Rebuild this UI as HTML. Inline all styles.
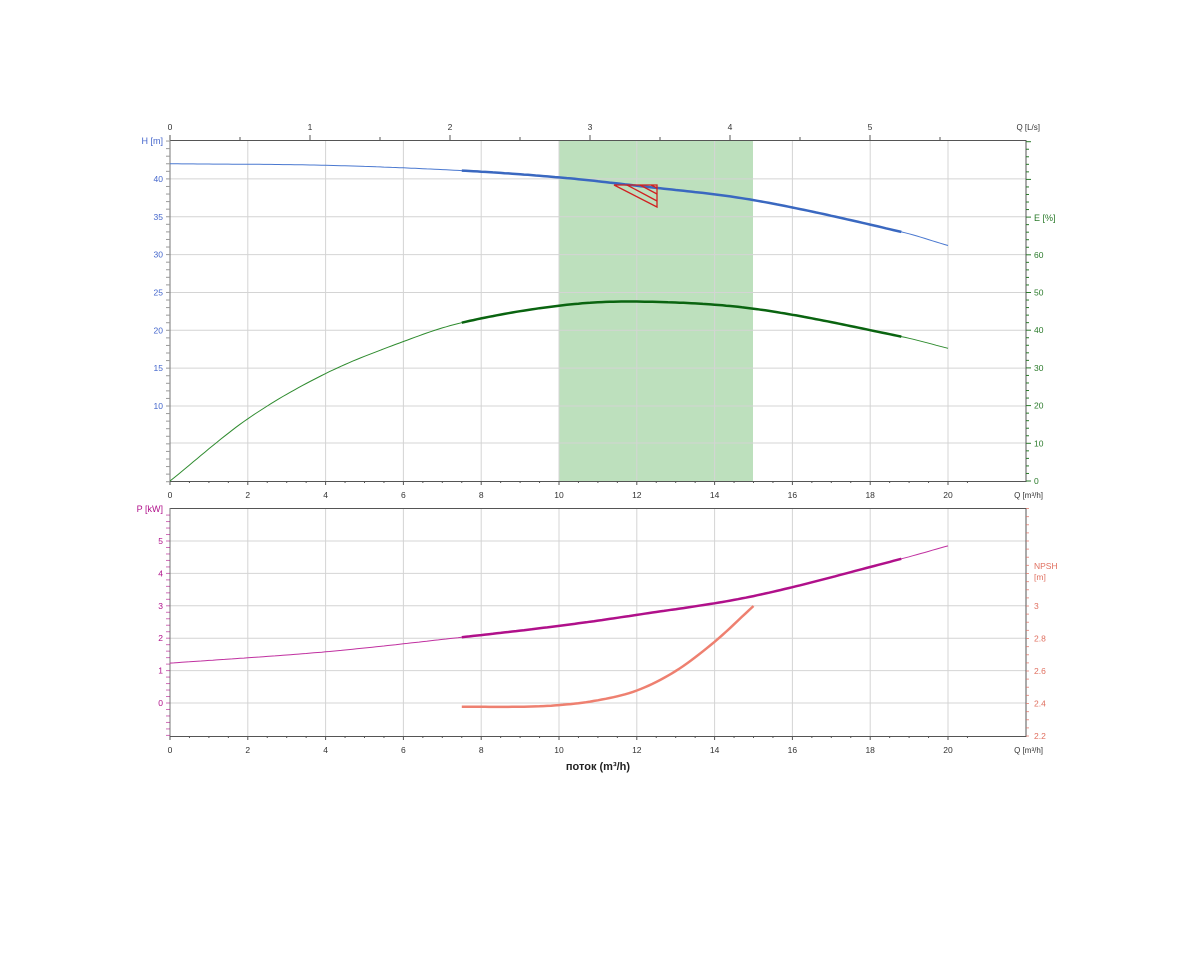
<!DOCTYPE html>
<html><head><meta charset="utf-8"><style>
body{margin:0;background:#fff;width:1200px;height:950px;overflow:hidden}
svg{font-family:"Liberation Sans",sans-serif}
</style></head><body>
<svg id="s" width="1200" height="950" viewBox="0 0 1200 950" xmlns="http://www.w3.org/2000/svg"></svg>
<script>
const s=document.getElementById('s');let h='';
const X=q=>170+q*38.9;
// top chart
const yH=v=>481.7-v*7.57, yE=v=>481-v*3.77;
const yP=v=>703-v*32.4, yN=v=>736-(v-2.2)*162.5;
h+=`<rect x="559" y="141" width="194" height="340" fill="#bde0bd"/>`;
// grids
for(let q=2;q<=20;q+=2){h+=`<line x1="${X(q)}" y1="141" x2="${X(q)}" y2="481" stroke="#d4d4d4"/>`;h+=`<line x1="${X(q)}" y1="508" x2="${X(q)}" y2="736" stroke="#d4d4d4"/>`;}
for(let v=10;v<=40;v+=5)h+=`<line x1="170" y1="${yH(v)}" x2="1026" y2="${yH(v)}" stroke="#d4d4d4"/>`;
h+=`<line x1="170" y1="443" x2="1026" y2="443" stroke="#d4d4d4"/>`;
for(let v=0;v<=5;v++)h+=`<line x1="170" y1="${yP(v)}" x2="1026" y2="${yP(v)}" stroke="#d4d4d4"/>`;
// frames
h+=`<rect x="170" y="140.5" width="856" height="341" fill="none" stroke="#555"/>`;
h+=`<rect x="170" y="508.5" width="856" height="228" fill="none" stroke="#555"/>`;
h+=`<line x1="170" y1="140" x2="170" y2="481" stroke="#777"/><line x1="170" y1="508" x2="170" y2="736" stroke="#777"/>`;
// ticks & labels
const T=(x,y,t,c,a='middle',fs=8.5)=>h+=`<text x="${x}" y="${y}" font-size="${fs}" fill="${c}" text-anchor="${a}">${t}</text>`;
for(let q=0;q<=20;q+=2){T(X(q),498,q,'#333');T(X(q),753,q,'#333');}
for(let q=0;q<=20.5;q+=0.5){const L=q%2==0?4:2;h+=`<line x1="${X(q)}" y1="481" x2="${X(q)}" y2="${481+L}" stroke="#555"/><line x1="${X(q)}" y1="736" x2="${X(q)}" y2="${736+L}" stroke="#555"/>`;}
for(let l=0;l<=5.5;l+=0.5){const x=170+l*140;h+=`<line x1="${x}" y1="140" x2="${x}" y2="${l%1==0?135:137}" stroke="#555"/>`;if(l%1==0&&l<=5)T(x,130,l,'#333');}
T(1040,130,'Q [L/s]','#333','end',8);T(1043,498,'Q [m³/h]','#333','end',8);T(1043,753,'Q [m³/h]','#333','end',8);
for(let v=10;v<=40;v+=5)T(163,yH(v)+3,v,'#4466cc','end');
for(let v=0;v<=45;v+=1)h+=`<line x1="166" y1="${yH(v)}" x2="170" y2="${yH(v)}" stroke="#999"/>`;
T(163,144,'H [m]','#4466cc','end',9);
for(let v=0;v<=60;v+=10){T(1034,yE(v)+3,v,'#2a7a2a','start');}
for(let v=0;v<=90;v+=2)h+=`<line x1="1026" y1="${yE(v)}" x2="${v%10==0?1031:1029}" y2="${yE(v)}" stroke="#2a7a2a"/>`;
T(1034,221,'E [%]','#2a7a2a','start',9);
for(let v=0;v<=5;v++)T(163,yP(v)+3,v,'#b0108a','end');
for(let v=-1;v<=6;v+=0.2){const y=yP(v);if(y>=508&&y<=736)h+=`<line x1="166" y1="${y}" x2="170" y2="${y}" stroke="#b0108a" opacity=".6"/>`;}
T(163,512,'P [kW]','#b0108a','end',9);
for(let v=2.2;v<=3.01;v+=0.2)T(1034,yN(v)+3,(Math.round(v*10)/10).toString(),'#e07060','start');
for(let v=2.2;v<=3.6;v+=0.05){const y=yN(v);if(y>=508)h+=`<line x1="1026" y1="${y}" x2="1029" y2="${y}" stroke="#e07060" opacity=".7"/>`;}
T(1034,569,'NPSH','#e07060','start',8.5);T(1034,580,'[m]','#e07060','start',8.5);
h+=`<text x="598" y="770" font-size="11" font-weight="bold" fill="#222" text-anchor="middle">поток (m³/h)</text>`;
// curves via interpolation of cubic through samples
function curve(pts,yf,q0,q1){let d='';for(let q=q0;q<=q1+1e-9;q+=0.1){let v=interp(pts,q);d+=(d?'L':'M')+X(q).toFixed(1)+' '+yf(v).toFixed(1);}return d;}
function interp(p,q){for(let i=0;i<p.length-1;i++){if(q<=p[i+1][0]){const a=p[i],b=p[i+1],p0=p[i-1]||a,p3=p[i+2]||b;const t=(q-a[0])/(b[0]-a[0]);const m1=(b[1]-p0[1])/(b[0]-p0[0])*(b[0]-a[0]),m2=(p3[1]-a[1])/(p3[0]-a[0])*(b[0]-a[0]);const t2=t*t,t3=t2*t;return (2*t3-3*t2+1)*a[1]+(t3-2*t2+t)*m1+(-2*t3+3*t2)*b[1]+(t3-t2)*m2;}}return p[p.length-1][1];}
const H=[[0,42],[4,41.8],[7.5,41.1],[10,40.2],[12,39.1],[15,37.2],[18.8,33],[20,31.2]];
const E=[[0,0],[2,16.5],[4,28.5],[6,37],[7.5,42],[10,46.5],[12,47.6],[15,45.7],[18.8,38.3],[20,35.2]];
const P=[[0,1.23],[4,1.58],[7.5,2.03],[10,2.38],[12,2.72],[15,3.3],[18.8,4.45],[20,4.85]];
const N=[[7.5,2.38],[9,2.38],[10,2.39],[11,2.42],[12,2.48],[13,2.6],[14,2.78],[15,3.0]];
const pl=(d,c,w)=>h+=`<path d="${d}" fill="none" stroke="${c}" stroke-width="${w}"/>`;
pl(curve(H,yH,0,20),'#4a78d0',1);pl(curve(H,yH,7.5,18.8),'#3a68c0',2.5);
pl(curve(E,yE,0,20),'#2e8b2e',1);pl(curve(E,yE,7.5,18.8),'#0a6410',2.5);
pl(curve(P,yP,0,20),'#c030a0',1);pl(curve(P,yP,7.5,18.8),'#b0108a',2.5);
pl(curve(N,yN,7.5,15),'#ee8070',2.5);
// operating triangle
h+=`<g stroke="#d02020" fill="none" stroke-width="1.3"><path d="M614 185 L657 185 L657 207 Z"/><path d="M627 185 L657 201 M640 185 L657 194 M651 185 L657 188"/></g>`;
s.innerHTML=h;
</script>
</body></html>
